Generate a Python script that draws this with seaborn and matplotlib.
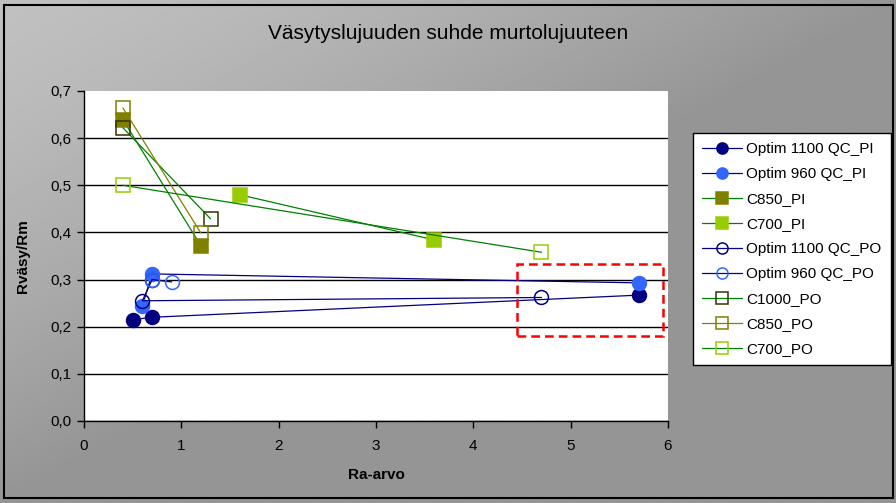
import matplotlib
matplotlib.use("Agg")
import matplotlib.pyplot as plt
import numpy as np
import seaborn as sns
from matplotlib.patches import Rectangle
from matplotlib.ticker import FuncFormatter

# Data (Ra-arvo vs Rväsy/Rm)
opt1100_pi_x = [0.5, 0.7, 5.7]
opt1100_pi_y = [0.215, 0.220, 0.267]
opt960_pi_x = [0.6, 0.7, 5.7]
opt960_pi_y = [0.245, 0.312, 0.293]
c850_pi_x = [0.4, 1.2]
c850_pi_y = [0.639, 0.372]
c700_pi_x = [1.6, 3.6]
c700_pi_y = [0.480, 0.384]
opt1100_po_x = [0.7, 0.6, 4.7]
opt1100_po_y = [0.300, 0.255, 0.262]
opt960_po_x = [0.7, 0.9]
opt960_po_y = [0.300, 0.295]
c1000_po_x = [0.4, 1.3]
c1000_po_y = [0.622, 0.429]
c850_po_x = [0.4, 1.2]
c850_po_y = [0.664, 0.399]
c700_po_x = [0.4, 4.7]
c700_po_y = [0.500, 0.358]

series_names = ["Optim 1100 QC_PI", "Optim 960 QC_PI", "C850_PI", "C700_PI",
                "Optim 1100 QC_PO", "Optim 960 QC_PO", "C1000_PO", "C850_PO", "C700_PO"]

# highlighted region (red dashed box)
box_x = [4.45, 5.95]
box_y = [0.18, 0.333]

NAVY, BLUE = "#000080", "#3366ff"
OLIVE, LIME, DARKOLIVE, GREEN = "#808000", "#99cc00", "#333300", "#008000"

# (x, y, line colour, marker, face, edge)
styles = [
    (opt1100_pi_x, opt1100_pi_y, NAVY, "o", NAVY, NAVY),
    (opt960_pi_x, opt960_pi_y, NAVY, "o", BLUE, BLUE),
    (c850_pi_x, c850_pi_y, GREEN, "s", OLIVE, OLIVE),
    (c700_pi_x, c700_pi_y, GREEN, "s", LIME, LIME),
    (opt1100_po_x, opt1100_po_y, NAVY, "o", "none", NAVY),
    (opt960_po_x, opt960_po_y, NAVY, "o", "none", BLUE),
    (c1000_po_x, c1000_po_y, GREEN, "s", "none", DARKOLIVE),
    (c850_po_x, c850_po_y, OLIVE, "s", "none", OLIVE),
    (c700_po_x, c700_po_y, GREEN, "s", "none", LIME),
]

sns.set_style("white")
plt.rcParams["font.family"] = ["Liberation Sans", "DejaVu Sans"]
plt.rcParams["text.color"] = "black"

fig = plt.figure(figsize=(8.96, 5.03), dpi=100)

# gradient background, light in the top-left corner
bg = fig.add_axes([0, 0, 1, 1], zorder=-10)
gx, gy = np.meshgrid(np.linspace(0, 1, 300), np.linspace(0, 1, 200))
t = np.clip(gx + gy, 0, 1) ** 1.4
shade = 0.753 - (0.753 - 0.585) * t
bg.imshow(shade, cmap="gray", vmin=0, vmax=1, aspect="auto", extent=[0, 1, 0, 1], origin="upper")
bg.set_axis_off()
fig.patches.append(Rectangle((4 / 896, 5 / 503), 889 / 896, 493 / 503, transform=fig.transFigure,
                             fill=False, edgecolor="black", linewidth=1.5))

ax = fig.add_axes([84 / 896, 82 / 503, 584 / 896, 330 / 503])
ax.set_facecolor("white")

for name, (x, y, lc, mk, fc, ec) in zip(series_names, styles):
    sns.lineplot(x=x, y=y, ax=ax, sort=False, estimator=None, color=lc, linewidth=0.9,
                 marker=mk, markersize=10, markerfacecolor=fc, markeredgecolor=ec,
                 markeredgewidth=1.1, label=name, legend=False)

ax.add_patch(Rectangle((box_x[0], box_y[0]), box_x[1] - box_x[0], box_y[1] - box_y[0],
                       fill=False, edgecolor="red", linewidth=1.8, linestyle=(0, (3.5, 2)), zorder=5))

ax.set_xlim(0, 6)
ax.set_ylim(0, 0.7)
ax.set_xticks(range(0, 7))
ax.set_yticks(np.arange(0, 0.71, 0.1))
ax.yaxis.set_major_formatter(FuncFormatter(lambda v, p: f"{v:.1f}".replace(".", ",")))
ax.tick_params(axis="both", direction="out", length=5, width=1, color="black",
               labelsize=11, labelcolor="black", left=True, bottom=True)
ax.tick_params(axis="y", pad=4)
ax.tick_params(axis="x", pad=8)
ax.yaxis.grid(True, color="black", linewidth=1)
ax.get_ygridlines()[-1].set_visible(False)
ax.set_axisbelow(True)
for s in ["top", "right"]:
    ax.spines[s].set_visible(False)
for s in ["left", "bottom"]:
    ax.spines[s].set_color("black")
    ax.spines[s].set_linewidth(1)

ax.set_xlabel("Ra-arvo", fontsize=11, fontweight="bold", color="black")
ax.set_ylabel("Rväsy/Rm", fontsize=11, fontweight="bold", color="black")
ax.xaxis.set_label_coords(0.5, -0.142)
ax.yaxis.set_label_coords(-0.0925, 0.5)

fig.text(0.5, 1 - 33 / 503, "Väsytyslujuuden suhde murtolujuuteen", ha="center", va="center", fontsize=15)

handles, labels = ax.get_legend_handles_labels()
leg = fig.legend(handles, labels, loc="upper left", bbox_to_anchor=(693 / 896, 1 - 133 / 503),
                 bbox_transform=fig.transFigure, fontsize=11, markerscale=0.8, handlelength=2.6,
                 handletextpad=0.3, labelspacing=0.72, borderpad=0.6, borderaxespad=0,
                 frameon=True, fancybox=False)
leg.get_frame().set_edgecolor("black")
leg.get_frame().set_facecolor("white")
leg.get_frame().set_alpha(1)
leg.get_frame().set_linewidth(1)

fig.savefig("out.png", dpi=100)
